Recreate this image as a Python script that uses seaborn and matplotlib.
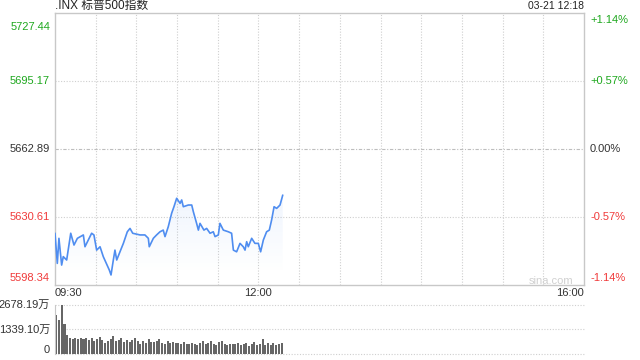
import numpy as np
import pandas as pd
import matplotlib
matplotlib.use("Agg")
import matplotlib.pyplot as plt
import seaborn as sns
from matplotlib.colors import to_rgb

sns.set_style("white")
plt.rcParams['font.family'] = ['Liberation Sans', 'Noto Sans CJK SC', 'DejaVu Sans']

title = ".INX 标普500指数"
stamp = "03-21 12:18"
prev_close = 5662.89
price_ticks = [5598.34, 5630.61, 5662.89, 5695.17, 5727.44]
pct_labels = ["-1.14%", "-0.57%", "0.00%", "+0.57%", "+1.14%"]
time_labels = ["09:30", "12:00", "16:00"]
time_label_pos = [0, 150, 390]

# minutes after 09:30 and index level
minutes = [0, 1.7, 2.9, 4.9, 6.1, 8.6, 11.6, 14, 16.5, 20.9, 22.1, 27, 28.7, 30.7,
           33.2, 35.6, 40, 41.3, 43, 44.2, 45.5, 48.4, 50.4, 53.3, 55.3, 57.3,
           62.7, 66.3, 68.8, 69.5, 72.5, 74.9, 77.4, 79.8, 81.1, 83.5, 86, 87.7,
           89.7, 92.2, 93.4, 94.6, 98.3, 100.8, 102, 104.4, 105.7, 106.9, 109.8,
           111.8, 114.3, 116.7, 118, 120.4, 121.6, 124.1, 127.8, 130.2, 131.5,
           133.9, 136.4, 138.8, 140.1, 141.3, 142.5, 145, 147.4, 149.9, 151.6,
           153.6, 156, 158, 159.7, 161.5, 163.4, 165.9, 167.9]
prices = [5622.9, 5608.6, 5620.5, 5607.8, 5611.8, 5610.2, 5622.9, 5617.3, 5620.5,
          5622.1, 5616.5, 5622.9, 5622.1, 5614.9, 5616.5, 5611.8, 5605.5, 5603.1,
          5610.2, 5614.9, 5610.2, 5614.9, 5618.1, 5623.6, 5625.2, 5622.9, 5622.1,
          5622.1, 5620.5, 5616.5, 5620.5, 5622.1, 5623.6, 5624.4, 5621.3, 5626.0,
          5632.4, 5635.5, 5639.5, 5637.1, 5638.7, 5635.5, 5636.3, 5636.3, 5633.1,
          5627.6, 5624.4, 5627.6, 5624.4, 5625.2, 5622.9, 5623.6, 5621.3, 5622.1,
          5627.6, 5624.4, 5623.6, 5622.9, 5614.9, 5614.1, 5618.1, 5616.5, 5614.9,
          5618.9, 5616.5, 5620.5, 5618.1, 5618.1, 5614.1, 5619.7, 5623.6, 5624.4,
          5629.2, 5635.5, 5634.7, 5636.3, 5641.0]

vol_max_label = ["0", "1339.10万", "2678.19万"]
vol_ticks = [0, 1339.10, 2678.19]
# volume (万) per 2-minute bar
volume = [2130, 1860, 2678, 1640, 1040, 900, 820, 880, 820, 850,
          800, 870, 780, 850, 720, 820, 950, 760, 600, 730,
          820, 1000, 730, 760, 850, 680, 760, 650, 760, 870,
          730, 560, 730, 620, 820, 650, 650, 700, 800, 600,
          560, 700, 620, 680, 580, 620, 560, 640, 560, 520,
          600, 540, 480, 600, 700, 560, 620, 720, 520, 480,
          640, 720, 560, 500, 560, 520, 540, 600, 480, 560,
          600, 420, 560, 640, 500, 560, 820, 480, 580, 500,
          620, 500, 560, 620]
vol_minutes = [1 + 2 * i for i in range(len(volume))]

green = "#1fa81f"
red = "#f03a3a"
gray = "#333333"
line_c = "#4f8df0"
border = "#c8c8c8"

fig = plt.figure(figsize=(6.4, 3.6), dpi=100)
W, H = 640, 360
L, R, T, B = 55, 584, 13, 285
ax = fig.add_axes([L / W, 1 - B / H, (R - L) / W, (B - T) / H])
vax = fig.add_axes([L / W, 1 - 354 / H, (R - L) / W, 49 / H])

df = pd.DataFrame({"m": minutes, "p": prices})
ymin, ymax = price_ticks[0], price_ticks[-1]
px = (ymax - ymin) / (B - T)

# gradient fill under the line
poly = ax.fill_between(df["m"], df["p"], ymin, color="none", lw=0)
grad = np.zeros((100, 1, 4))
grad[..., :3] = to_rgb(line_c)
grad[:, 0, 3] = np.linspace(0.09, 0.0, 100)
im = ax.imshow(grad, aspect="auto", extent=[0, max(minutes), ymin + 5, max(prices)],
               origin="upper", zorder=1)
im.set_clip_path(poly.get_paths()[0], transform=ax.transData)

sns.lineplot(data=df, x="m", y="p", ax=ax, color=line_c, lw=1.2, zorder=3)

ax.set_xlim(0, 390)
ax.set_ylim(ymin, ymax)
ax.set_xlabel("")
ax.set_ylabel("")
ax.set_xticks([])
ax.set_yticks([])
for s in ax.spines.values():
    s.set_color(border)
    s.set_linewidth(1)

for m in range(30, 390, 30):
    ax.axvline(m, color="#cfcfcf", lw=0.8, ls=(0, (1, 1.5)), zorder=0)
for v in [price_ticks[1], price_ticks[3]]:
    ax.axhline(v, color="#cfcfcf", lw=0.8, ls=(0, (1, 1.5)), zorder=0)
ax.axhline(prev_close, color="#bdbdbd", lw=0.8, ls=(0, (3, 1.5, 1, 1.5)), zorder=0)

def ycol(v):
    if abs(v - prev_close) < 0.01:
        return gray
    return green if v > prev_close else red

fs = 8
xoff = 390 / (R - L)
for i, v in enumerate(price_ticks):
    if i == 0:
        yl, yr = v + 7 * px, v + 7 * px
    elif i == len(price_ticks) - 1:
        yl, yr = v - 14 * px, v - 7 * px
    else:
        yl = yr = v
    ax.text(-5 * xoff, yl, f"{v:.2f}", color=ycol(v), ha="right",
            va="center", fontsize=fs)
    ax.text(390 + 6 * xoff, yr, pct_labels[i], color=ycol(v), ha="left",
            va="center", fontsize=fs)

for lab, pos in zip(time_labels, time_label_pos):
    ha = "left" if pos == 0 else ("right" if pos == 390 else "center")
    ax.text(pos, ymin - 8 * px, lab, ha=ha, va="center", fontsize=fs, color=gray)

ax.text(0, ymax + 7 * px, title, ha="left", va="center",
        fontsize=8.5, color="#222222")
ax.text(390, ymax + 7 * px, stamp, ha="right", va="center",
        fontsize=7.5, color="#222222")
ax.text(390 - 11 * xoff, ymin + 4 * px, "sina.com", ha="right",
        va="center", fontsize=8, color="#d0d0d0")

# volume panel
vdf = pd.DataFrame({"m": vol_minutes, "v": volume})
vax.bar(vdf["m"], vdf["v"], width=1.5, color="#666666", lw=0)
vax.set_xlim(0, 390)
vax.set_ylim(0, vol_ticks[-1])
vax.set_xticks([])
vax.set_yticks([])
for k in ["top", "right", "bottom"]:
    vax.spines[k].set_visible(False)
vax.spines["left"].set_color(border)
for v in vol_ticks:
    vax.axhline(v, color="#cfcfcf", lw=0.8, ls=(0, (1, 1.5)), zorder=0, clip_on=False)
for v, lab in zip(vol_ticks, vol_max_label):
    yy = v if v > 0 else 4 / 49 * vol_ticks[-1]
    vax.text(-5 * xoff, yy, lab, ha="right", va="center", fontsize=fs, color=gray)
vax.set_xlabel("")
vax.set_ylabel("")

fig.savefig("out.png", dpi=100)
